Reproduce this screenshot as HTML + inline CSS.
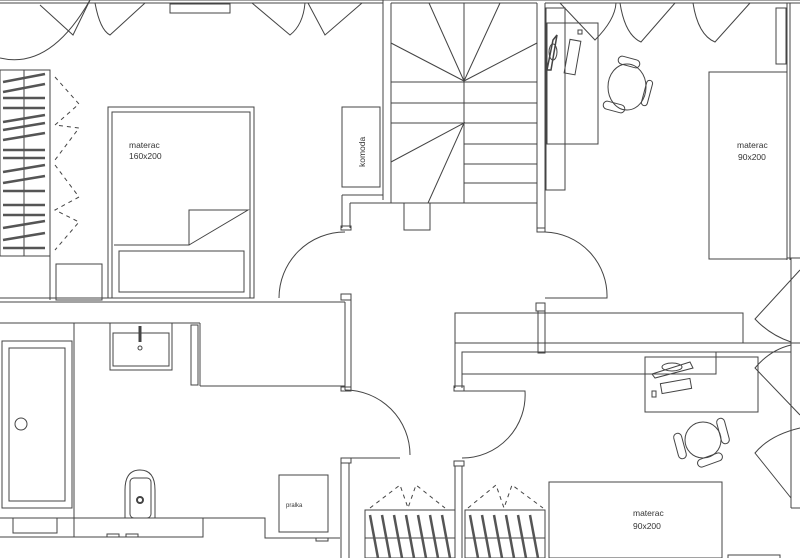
<!DOCTYPE html>
<html><head><meta charset="utf-8"><style>html,body{margin:0;padding:0;background:#fff}svg{display:block}text{font-family:"Liberation Sans",sans-serif;fill:#333}</style></head>
<body>
<svg width="800" height="558" viewBox="0 0 800 558" xmlns="http://www.w3.org/2000/svg" fill="none" stroke="#444" stroke-width="1">
<line x1="0" y1="3" x2="383" y2="3"/><line x1="391" y1="3" x2="537" y2="3"/><line x1="545" y1="3" x2="800" y2="3"/>
<line x1="0" y1="0" x2="800" y2="0"/>
<rect x="170" y="4" width="60" height="9"/>
<path d="M0,58 Q50,70 90,0"/><path d="M40,5 L73,35 L90,0"/>
<path d="M95,3 Q100,30 110,35 L145,3"/>
<path d="M252,3 L290,35 Q303,25 305,3"/><path d="M308,3 L325,35 L362,3"/>
<path d="M560,3 L595,40 Q615,20 616,3"/><path d="M620,3 Q625,35 641,42 L675,3"/><path d="M693,3 Q698,35 715,42 L750,3"/>
<line x1="383" y1="0" x2="383" y2="200"/><line x1="391" y1="3" x2="391" y2="203"/>
<line x1="537" y1="3" x2="537" y2="230"/><line x1="545" y1="3" x2="545" y2="230"/>
<rect x="537" y="228" width="8" height="4"/>
<line x1="342" y1="195" x2="383" y2="195"/><line x1="350" y1="203" x2="391" y2="203"/>
<line x1="342" y1="195" x2="342" y2="228"/><line x1="350" y1="203" x2="350" y2="228"/>
<rect x="341" y="226" width="10" height="4"/>
<line x1="787" y1="3" x2="787" y2="260"/><line x1="790" y1="3" x2="790" y2="260"/>
<line x1="791" y1="258" x2="791" y2="508"/><line x1="787" y1="258" x2="800" y2="258"/><line x1="791" y1="508" x2="800" y2="508"/>
<rect x="0" y="70" width="50" height="186"/><line x1="24" y1="70" x2="24" y2="256"/>
<g stroke-width="2.5" stroke="#555">
<line x1="3" y1="82" x2="45" y2="74"/><line x1="3" y1="92" x2="45" y2="84"/><line x1="3" y1="98" x2="45" y2="98"/><line x1="3" y1="108" x2="45" y2="108"/><line x1="3" y1="122" x2="45" y2="115"/><line x1="3" y1="130" x2="45" y2="123"/><line x1="3" y1="140" x2="45" y2="133"/><line x1="3" y1="150" x2="45" y2="150"/><line x1="3" y1="158" x2="45" y2="158"/><line x1="3" y1="172" x2="45" y2="165"/><line x1="3" y1="183" x2="45" y2="176"/><line x1="3" y1="191" x2="45" y2="191"/><line x1="3" y1="205" x2="45" y2="205"/><line x1="3" y1="215" x2="45" y2="215"/><line x1="3" y1="228" x2="45" y2="221"/><line x1="3" y1="240" x2="45" y2="233"/><line x1="3" y1="248" x2="45" y2="248"/>
</g>
<g stroke-dasharray="4,4"><path d="M55,77 L79,104 L55,125 L79,128 L55,160"/><path d="M55,165 L79,197 L55,210 L79,222 L55,250"/></g>
<line x1="50" y1="256" x2="50" y2="300"/>
<rect x="56" y="264" width="46" height="36"/>
<rect x="108" y="107" width="146" height="191"/><rect x="112" y="112" width="138" height="186"/>
<rect x="119" y="251" width="125" height="41"/>
<path d="M114,245 L189,245 L189,210 L248,210 L189,245"/>
<text x="129" y="148" font-size="8.5" stroke="none">materac</text><text x="129" y="159" font-size="8.5" stroke="none">160x200</text>
<rect x="342" y="107" width="38" height="80"/>
<text transform="translate(365,167) rotate(-90)" font-size="8.5" stroke="none">komoda</text>
<line x1="464" y1="3" x2="464" y2="203"/><line x1="391" y1="203" x2="537" y2="203"/>
<path d="M429,3 L464,81 L500,3 M391,43 L464,81 L537,43"/>
<line x1="391" y1="82" x2="537" y2="82"/><line x1="391" y1="103" x2="537" y2="103"/><line x1="391" y1="123" x2="537" y2="123"/>
<path d="M391,162 L464,123 L428,203"/>
<line x1="464" y1="144" x2="537" y2="144"/><line x1="464" y1="164" x2="537" y2="164"/><line x1="464" y1="183" x2="537" y2="183"/>
<rect x="404" y="203" width="26" height="27"/>
<path d="M345,232 A66,66 0 0 0 279,298"/><path d="M545,232 A64,64 0 0 1 607,298 L545,298"/>
<rect x="546" y="8" width="19" height="182"/><rect x="547" y="23" width="51" height="121"/>
<path d="M553,40 L557,35 L551,70 L547,70 Z" stroke-width="1.5"/><ellipse cx="553" cy="52" rx="4" ry="8"/>
<rect x="567" y="40" width="11" height="34" transform="rotate(10 572 57)"/><rect x="578" y="30" width="4" height="4"/>
<ellipse cx="627" cy="87" rx="19" ry="23"/><rect x="618" y="58" width="22" height="8" rx="4" transform="rotate(15 629 62)"/><rect x="603" y="103" width="22" height="8" rx="4" transform="rotate(15 614 107)"/><rect x="644" y="80" width="6" height="26" rx="3" transform="rotate(15 647 93)"/>
<rect x="709" y="72" width="78" height="187"/>
<rect x="776" y="8" width="10" height="56"/>
<text x="737" y="148" font-size="8.5" stroke="none">materac</text><text x="738" y="160" font-size="8.5" stroke="none">90x200</text>
<!-- right windows -->
<path d="M800,270 L755,319 Q770,335 791,342"/>
<path d="M791,345 Q770,350 755,368 L800,415"/>
<path d="M800,428 Q770,435 755,453 L791,498"/>
<line x1="0" y1="298" x2="114" y2="298"/><line x1="0" y1="302" x2="345" y2="302"/>
<rect x="341" y="294" width="10" height="6"/>
<line x1="345" y1="302" x2="345" y2="390"/><line x1="351" y1="300" x2="351" y2="390"/>
<rect x="341" y="387" width="10" height="4"/>
<line x1="0" y1="323" x2="200" y2="323"/>
<line x1="200" y1="323" x2="200" y2="386"/><line x1="200" y1="386" x2="345" y2="386"/>
<rect x="191" y="325" width="7" height="60"/>
<line x1="74" y1="323" x2="74" y2="537"/>
<rect x="2" y="341" width="70" height="167"/><rect x="9" y="348" width="56" height="153"/>
<circle cx="21" cy="424" r="6"/>
<rect x="110" y="323" width="62" height="47"/><rect x="113" y="333" width="56" height="33"/>
<line x1="140" y1="326" x2="140" y2="342" stroke-width="3"/><circle cx="140" cy="348" r="2"/>
<path d="M125,518 L125,490 Q125,470 140,470 Q155,470 155,490 L155,518"/><rect x="130" y="478" width="21" height="40" rx="4"/><circle cx="140" cy="500" r="3" stroke-width="2"/>
<path d="M0,518 L265,518 L265,538 L340,538"/>
<path d="M0,537 L203,537 L203,518"/>
<rect x="13" y="518" width="44" height="15"/>
<rect x="107" y="534" width="12" height="3"/><rect x="126" y="534" width="12" height="3"/>
<rect x="279" y="475" width="49" height="57"/>
<text x="286" y="507" font-size="6" stroke="none">pralka</text>
<rect x="316" y="538" width="12" height="3"/>
<path d="M345,390 A65,65 0 0 1 410,455"/>
<rect x="341" y="458" width="10" height="5"/>
<line x1="341" y1="463" x2="341" y2="558"/><line x1="349" y1="463" x2="349" y2="558"/>
<line x1="349" y1="458" x2="400" y2="458"/>
<rect x="365" y="510" width="90" height="48"/><rect x="465" y="510" width="80" height="48"/>
<line x1="365" y1="538" x2="455" y2="538"/><line x1="465" y1="538" x2="545" y2="538"/>
<g stroke-width="2.5" stroke="#555"><line x1="370" y1="515" x2="378" y2="558"/><line x1="382" y1="515" x2="390" y2="558"/><line x1="394" y1="515" x2="402" y2="558"/><line x1="406" y1="515" x2="414" y2="558"/><line x1="418" y1="515" x2="426" y2="558"/><line x1="430" y1="515" x2="438" y2="558"/><line x1="442" y1="515" x2="450" y2="558"/>
<line x1="470" y1="515" x2="478" y2="558"/><line x1="482" y1="515" x2="490" y2="558"/><line x1="494" y1="515" x2="502" y2="558"/><line x1="506" y1="515" x2="514" y2="558"/><line x1="518" y1="515" x2="526" y2="558"/><line x1="530" y1="515" x2="538" y2="558"/></g>
<g stroke-dasharray="4,4"><path d="M370,508 L400,485 L408,508 L416,485 L445,508"/><path d="M468,508 L496,485 L504,508 L512,485 L543,508"/></g>
<rect x="455" y="313" width="288" height="30"/>
<rect x="536" y="303" width="9" height="8"/><rect x="538" y="311" width="7" height="42"/>
<line x1="455" y1="343" x2="800" y2="343"/><line x1="462" y1="352" x2="791" y2="352"/>
<line x1="455" y1="343" x2="455" y2="388"/><line x1="462" y1="352" x2="462" y2="388"/>
<rect x="454" y="386" width="10" height="5"/>
<rect x="462" y="352" width="254" height="22"/>
<path d="M462,391 L525,391 A63,63 0 0 1 462,458"/>
<rect x="454" y="461" width="10" height="5"/>
<line x1="455" y1="466" x2="455" y2="558"/><line x1="462" y1="466" x2="462" y2="558"/>
<rect x="645" y="357" width="113" height="55"/>
<path d="M652,374 L690,362 L693,368 L655,378 Z"/><ellipse cx="672" cy="367" rx="10" ry="4"/>
<rect x="661" y="381" width="30" height="10" transform="rotate(-10 676 386)"/><rect x="652" y="391" width="4" height="6"/>
<circle cx="703" cy="440" r="18"/><rect x="676" y="433" width="8" height="26" rx="4" transform="rotate(-15 680 446)"/><rect x="719" y="418" width="8" height="26" rx="4" transform="rotate(-15 723 431)"/><rect x="697" y="456" width="26" height="8" rx="4" transform="rotate(-20 710 460)"/>
<rect x="549" y="482" width="173" height="76"/>
<text x="633" y="516" font-size="8.5" stroke="none">materac</text><text x="633" y="529" font-size="8.5" stroke="none">90x200</text>
<rect x="728" y="555" width="52" height="5"/>
</svg>
</body></html>
